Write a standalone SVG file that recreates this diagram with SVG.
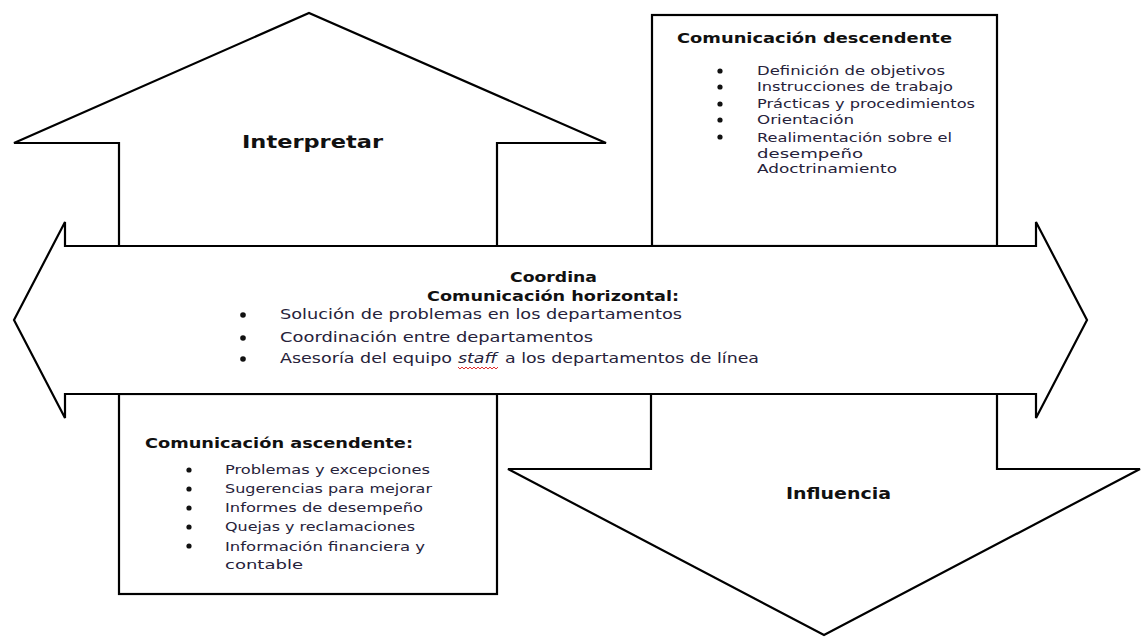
<svg xmlns="http://www.w3.org/2000/svg" width="1141" height="637" viewBox="0 0 1141 637">
  <style>
    .shape { fill: #ffffff; stroke: #000000; stroke-width: 2.2; stroke-linejoin: miter; }
    .title { font-family: "DejaVu Sans", "Liberation Sans", sans-serif; font-weight: bold; fill: #111111; }
    .item { font-family: "DejaVu Sans", "Liberation Sans", sans-serif; fill: #26223a; }
    .dot { fill: #111111; }
    .squiggle { fill: none; stroke: #e03030; stroke-width: 1; }
  </style>

  <rect x="0" y="0" width="1141" height="637" fill="#ffffff"/>

  <!-- upward arrow: Interpretar -->
  <g id="node-interpretar">
    <path class="shape" d="M119,246 L119,143 L14,143 L309,13 L606,143 L497,143 L497,246 Z"/>
    <text class="title" x="242" y="148" font-size="18.5" textLength="141" lengthAdjust="spacingAndGlyphs">Interpretar</text>
  </g>

  <!-- top-right box: downward communication -->
  <g id="node-descendente">
    <rect class="shape" x="652" y="15" width="345" height="231"/>
    <text class="title" x="677" y="43" font-size="14.5" textLength="275" lengthAdjust="spacingAndGlyphs">Comunicación descendente</text>
    <circle class="dot" cx="720" cy="71" r="2.6"/>
    <circle class="dot" cx="720" cy="87" r="2.6"/>
    <circle class="dot" cx="720" cy="104" r="2.6"/>
    <circle class="dot" cx="720" cy="120" r="2.6"/>
    <circle class="dot" cx="720" cy="137" r="2.6"/>
    <g class="item" font-size="12.5">
      <text x="757" y="75" textLength="188" lengthAdjust="spacingAndGlyphs">Definición de objetivos</text>
      <text x="757" y="91" textLength="196" lengthAdjust="spacingAndGlyphs">Instrucciones de trabajo</text>
      <text x="757" y="108" textLength="218" lengthAdjust="spacingAndGlyphs">Prácticas y procedimientos</text>
      <text x="757" y="124" textLength="97" lengthAdjust="spacingAndGlyphs">Orientación</text>
      <text x="757" y="142" textLength="195" lengthAdjust="spacingAndGlyphs">Realimentación sobre el</text>
      <text x="757" y="158" textLength="106" lengthAdjust="spacingAndGlyphs">desempeño</text>
      <text x="757" y="173" textLength="140" lengthAdjust="spacingAndGlyphs">Adoctrinamiento</text>
    </g>
  </g>

  <!-- downward arrow: Influencia -->
  <g id="node-influencia">
    <path class="shape" d="M651,394 L651,469 L508,469 L824,635 L1140,469 L997,469 L997,394 Z"/>
    <text class="title" x="786" y="499" font-size="16" textLength="105" lengthAdjust="spacingAndGlyphs">Influencia</text>
  </g>

  <!-- bottom-left box: upward communication -->
  <g id="node-ascendente">
    <rect class="shape" x="119" y="394" width="378" height="200"/>
    <text class="title" x="145" y="448" font-size="14.5" textLength="268" lengthAdjust="spacingAndGlyphs">Comunicación ascendente:</text>
    <circle class="dot" cx="189" cy="470" r="2.6"/>
    <circle class="dot" cx="189" cy="489" r="2.6"/>
    <circle class="dot" cx="189" cy="508" r="2.6"/>
    <circle class="dot" cx="189" cy="527" r="2.6"/>
    <circle class="dot" cx="189" cy="546" r="2.6"/>
    <g class="item" font-size="12.5">
      <text x="225" y="474" textLength="205" lengthAdjust="spacingAndGlyphs">Problemas y excepciones</text>
      <text x="225" y="493" textLength="207" lengthAdjust="spacingAndGlyphs">Sugerencias para mejorar</text>
      <text x="225" y="512" textLength="198" lengthAdjust="spacingAndGlyphs">Informes de desempeño</text>
      <text x="225" y="531" textLength="190" lengthAdjust="spacingAndGlyphs">Quejas y reclamaciones</text>
      <text x="225" y="551" textLength="200" lengthAdjust="spacingAndGlyphs">Información financiera y</text>
      <text x="225" y="569" textLength="78" lengthAdjust="spacingAndGlyphs">contable</text>
    </g>
  </g>

  <!-- horizontal double arrow: coordination -->
  <g id="node-horizontal">
    <path class="shape" d="M65,246 L1036,246 L1036,222 L1087,320 L1036,418 L1036,394 L65,394 L65,418 L14,320 L65,222 Z"/>
    <text class="title" x="510" y="282" font-size="14.5" textLength="87" lengthAdjust="spacingAndGlyphs">Coordina</text>
    <text class="title" x="427" y="301" font-size="14.5" textLength="252" lengthAdjust="spacingAndGlyphs">Comunicación horizontal:</text>
    <circle class="dot" cx="243" cy="315" r="2.8"/>
    <circle class="dot" cx="243" cy="338" r="2.8"/>
    <circle class="dot" cx="243" cy="359" r="2.8"/>
    <g class="item" font-size="13.5">
      <text x="280" y="319" textLength="402" lengthAdjust="spacingAndGlyphs">Solución de problemas en los departamentos</text>
      <text x="280" y="342" textLength="313" lengthAdjust="spacingAndGlyphs">Coordinación entre departamentos</text>
      <text x="280" y="363" textLength="172" lengthAdjust="spacingAndGlyphs">Asesoría del equipo</text>
      <text x="458" y="363" font-style="italic" textLength="39" lengthAdjust="spacingAndGlyphs">staff</text>
      <text x="505" y="363" textLength="254" lengthAdjust="spacingAndGlyphs">a los departamentos de línea</text>
    </g>
    <path class="squiggle" d="M458,367 l2,2 l2,-2 l2,2 l2,-2 l2,2 l2,-2 l2,2 l2,-2 l2,2 l2,-2 l2,2 l2,-2 l2,2 l2,-2 l2,2 l2,-2 l2,2 l2,-2 l2,2 l2,-2"/>
  </g>
</svg>
